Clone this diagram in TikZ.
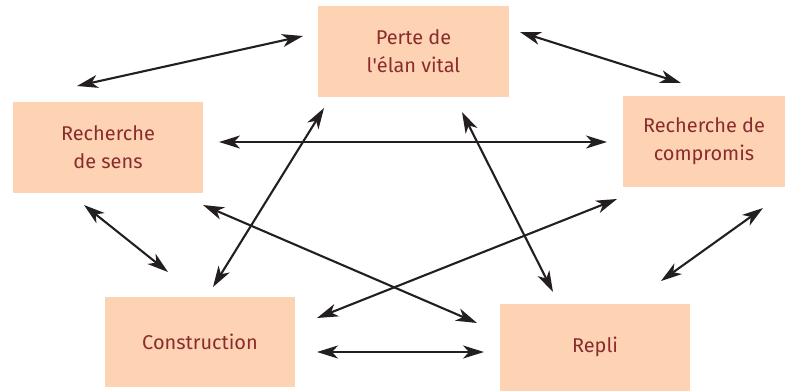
\documentclass[tikz,border=0pt]{standalone}
\usepackage{fontspec}
\setmainfont{Fira Sans}
\usetikzlibrary{arrows.meta}
\definecolor{boxfill}{HTML}{FDD3B3}
\definecolor{txt}{HTML}{8A2B2E}
\definecolor{arr}{HTML}{231F20}
\begin{document}
\begin{tikzpicture}[x=1bp,y=-1bp,
  box/.style={fill=boxfill,draw=none,text=txt,align=center,inner sep=0pt,
    font=\fontsize{20}{28}\selectfont},
  link/.style={draw=arr,line width=2.1bp,{Stealth[length=21bp,width=13bp,inset=6bp]}-{Stealth[length=21bp,width=13bp,inset=6bp]}}]
\useasboundingbox (0,0) rectangle (799,391);
\node[box,minimum width=191bp,minimum height=91bp] (perte) at (413.5,51.5) {Perte de\\l\textquotesingle élan vital};
\node[box,minimum width=190bp,minimum height=91bp] (sens) at (108,147.5) {Recherche\\de sens};
\node[box,minimum width=162bp,minimum height=91bp] (comp) at (704,141.5) {Recherche de\\compromis};
\node[box,minimum width=190bp,minimum height=90bp] (constr) at (200,342) {Construction};
\node[box,minimum width=190bp,minimum height=87bp] (repli) at (595,347) {Repli};
% arrow end points
\coordinate (a1) at (77,86);   \coordinate (b1) at (303,36);
\coordinate (a2) at (520,32);  \coordinate (b2) at (681,83);
\coordinate (a3) at (219,142); \coordinate (b3) at (607,142);
\coordinate (a4) at (213,287); \coordinate (b4) at (324,108);
\coordinate (a5) at (462,112); \coordinate (b5) at (553,292);
\coordinate (a6) at (84,205);  \coordinate (b6) at (168,272);
\coordinate (a7) at (203,205); \coordinate (b7) at (477,323);
\coordinate (a8) at (317,318); \coordinate (b8) at (617,199);
\coordinate (a9) at (317,352); \coordinate (b9) at (484,352);
\coordinate (a10) at (763,208); \coordinate (b10) at (661,281);
\foreach \i in {1,...,10} {\draw[link] (a\i) -- (b\i);}
\end{tikzpicture}
\end{document}
